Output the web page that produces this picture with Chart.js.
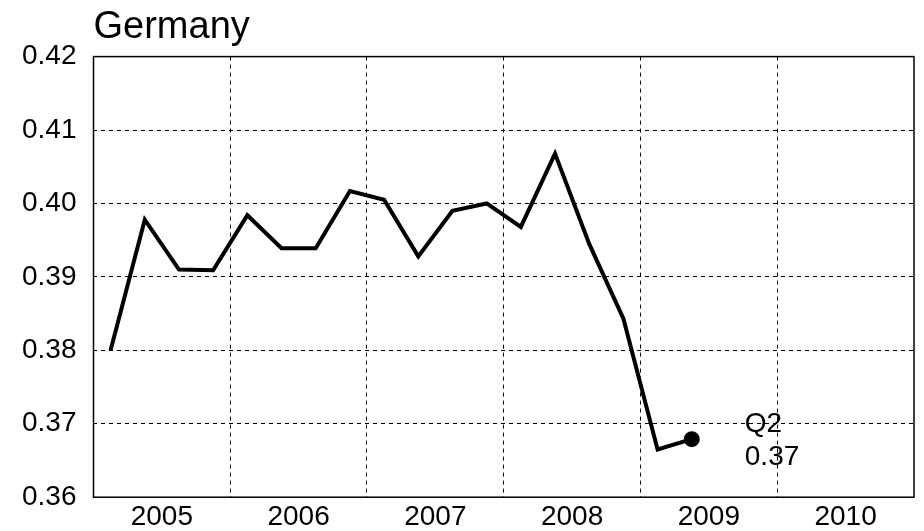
<!DOCTYPE html>
<html>
<head>
<meta charset="utf-8">
<script src="https://cdn.jsdelivr.net/npm/chart.js@4/dist/chart.umd.min.js"></script>
<style>
  html, body { margin: 0; padding: 0; background: #fff; }
  #wrap { width: 924px; height: 531px; }
</style>
</head>
<body>
<div id="wrap"><canvas id="myChart"></canvas></div>
<script>
// data (quarterly, 2005 Q1 .. 2009 Q2)
var quarters = ['2005Q1','2005Q2','2005Q3','2005Q4',
                '2006Q1','2006Q2','2006Q3','2006Q4',
                '2007Q1','2007Q2','2007Q3','2007Q4',
                '2008Q1','2008Q2','2008Q3','2008Q4',
                '2009Q1','2009Q2'];
var values = [0.3800, 0.3978, 0.3910, 0.3909,
              0.3984, 0.3939, 0.3939, 0.4017,
              0.4005, 0.3928, 0.3990, 0.4000,
              0.3968, 0.4068, 0.3945, 0.3843,
              0.3665, 0.3679];
var years = [2005, 2006, 2007, 2008, 2009, 2010];
var yTicks = [0.36, 0.37, 0.38, 0.39, 0.40, 0.41, 0.42];

var FONT = "'Liberation Sans', Arial, sans-serif";

// points sit in the middle of their quarter, 4 quarters per year
var points = values.map(function(v, i){ return { x: i + 0.5, y: v }; });
var lastIdx = values.length - 1;

// frame round the plot area
var framePlugin = {
  id: 'frame',
  afterDraw: function(chart){
    var a = chart.chartArea, c = chart.ctx;
    c.save();
    c.strokeStyle = '#000';
    c.lineWidth = 1.5;
    c.strokeRect(a.left, a.top, a.right - a.left, a.bottom - a.top);
    c.restore();
  }
};

// label for the last point
var lastLabel = {
  id: 'lastLabel',
  afterDatasetsDraw: function(chart){
    var pt = chart.getDatasetMeta(0).data[lastIdx];
    var c = chart.ctx;
    var q = quarters[lastIdx].slice(4);
    c.save();
    c.fillStyle = '#000';
    c.font = '28px ' + FONT;
    c.textAlign = 'left';
    c.textBaseline = 'alphabetic';
    c.fillText(q, pt.x + 53, pt.y - 7);
    c.fillText(values[lastIdx].toFixed(2), pt.x + 53, pt.y + 26);
    c.restore();
  }
};

var ctx = document.getElementById('myChart');
new Chart(ctx, {
  type: 'line',
  data: {
    datasets: [{
      data: points,
      borderColor: '#000',
      backgroundColor: '#000',
      borderWidth: 4,
      borderJoinStyle: 'miter',
      tension: 0,
      pointRadius: function(c){ return c.dataIndex === lastIdx ? 6 : 0; },
      pointHoverRadius: 0,
      fill: false
    }]
  },
  options: {
    responsive: true,
    maintainAspectRatio: false,
    animation: false,
    events: [],
    layout: { padding: { left: 5, right: 9, top: 0, bottom: -7 } },
    plugins: {
      legend: { display: false },
      tooltip: { enabled: false },
      title: {
        display: true,
        text: 'Germany',
        align: 'start',
        fullSize: false,
        color: '#000',
        font: { family: FONT, size: 38, weight: 'normal' },
        padding: { top: 5, bottom: 6 }
      }
    },
    scales: {
      x: {
        type: 'linear',
        min: 0,
        max: years.length * 4,
        afterBuildTicks: function(axis){
          var t = [];
          for (var v = 0; v <= years.length * 4; v += 2) t.push({ value: v });
          axis.ticks = t;
        },
        ticks: {
          autoSkip: false,
          maxRotation: 0,
          padding: 3,
          color: '#000',
          font: { family: FONT, size: 28 },
          callback: function(v){
            if (v % 4 === 2) return String(years[(v - 2) / 4]);
            return '';
          }
        },
        grid: {
          drawTicks: false,
          lineWidth: 1,
          color: function(c){
            var v = c.tick ? c.tick.value : 0;
            return (v % 4 === 0 && v > 0 && v < years.length * 4) ? '#000' : 'rgba(0,0,0,0)';
          }
        },
        border: { display: false, dash: [4, 4] }
      },
      y: {
        min: yTicks[0],
        max: yTicks[yTicks.length - 1],
        afterBuildTicks: function(axis){
          axis.ticks = yTicks.map(function(v){ return { value: v }; });
        },
        ticks: {
          padding: 17,
          color: '#000',
          font: { family: FONT, size: 28 },
          callback: function(v){ return v.toFixed(2); }
        },
        grid: {
          drawTicks: false,
          lineWidth: 1,
          color: '#000'
        },
        border: { display: false, dash: [4, 4] }
      }
    }
  },
  plugins: [framePlugin, lastLabel]
});
</script>
</body>
</html>
